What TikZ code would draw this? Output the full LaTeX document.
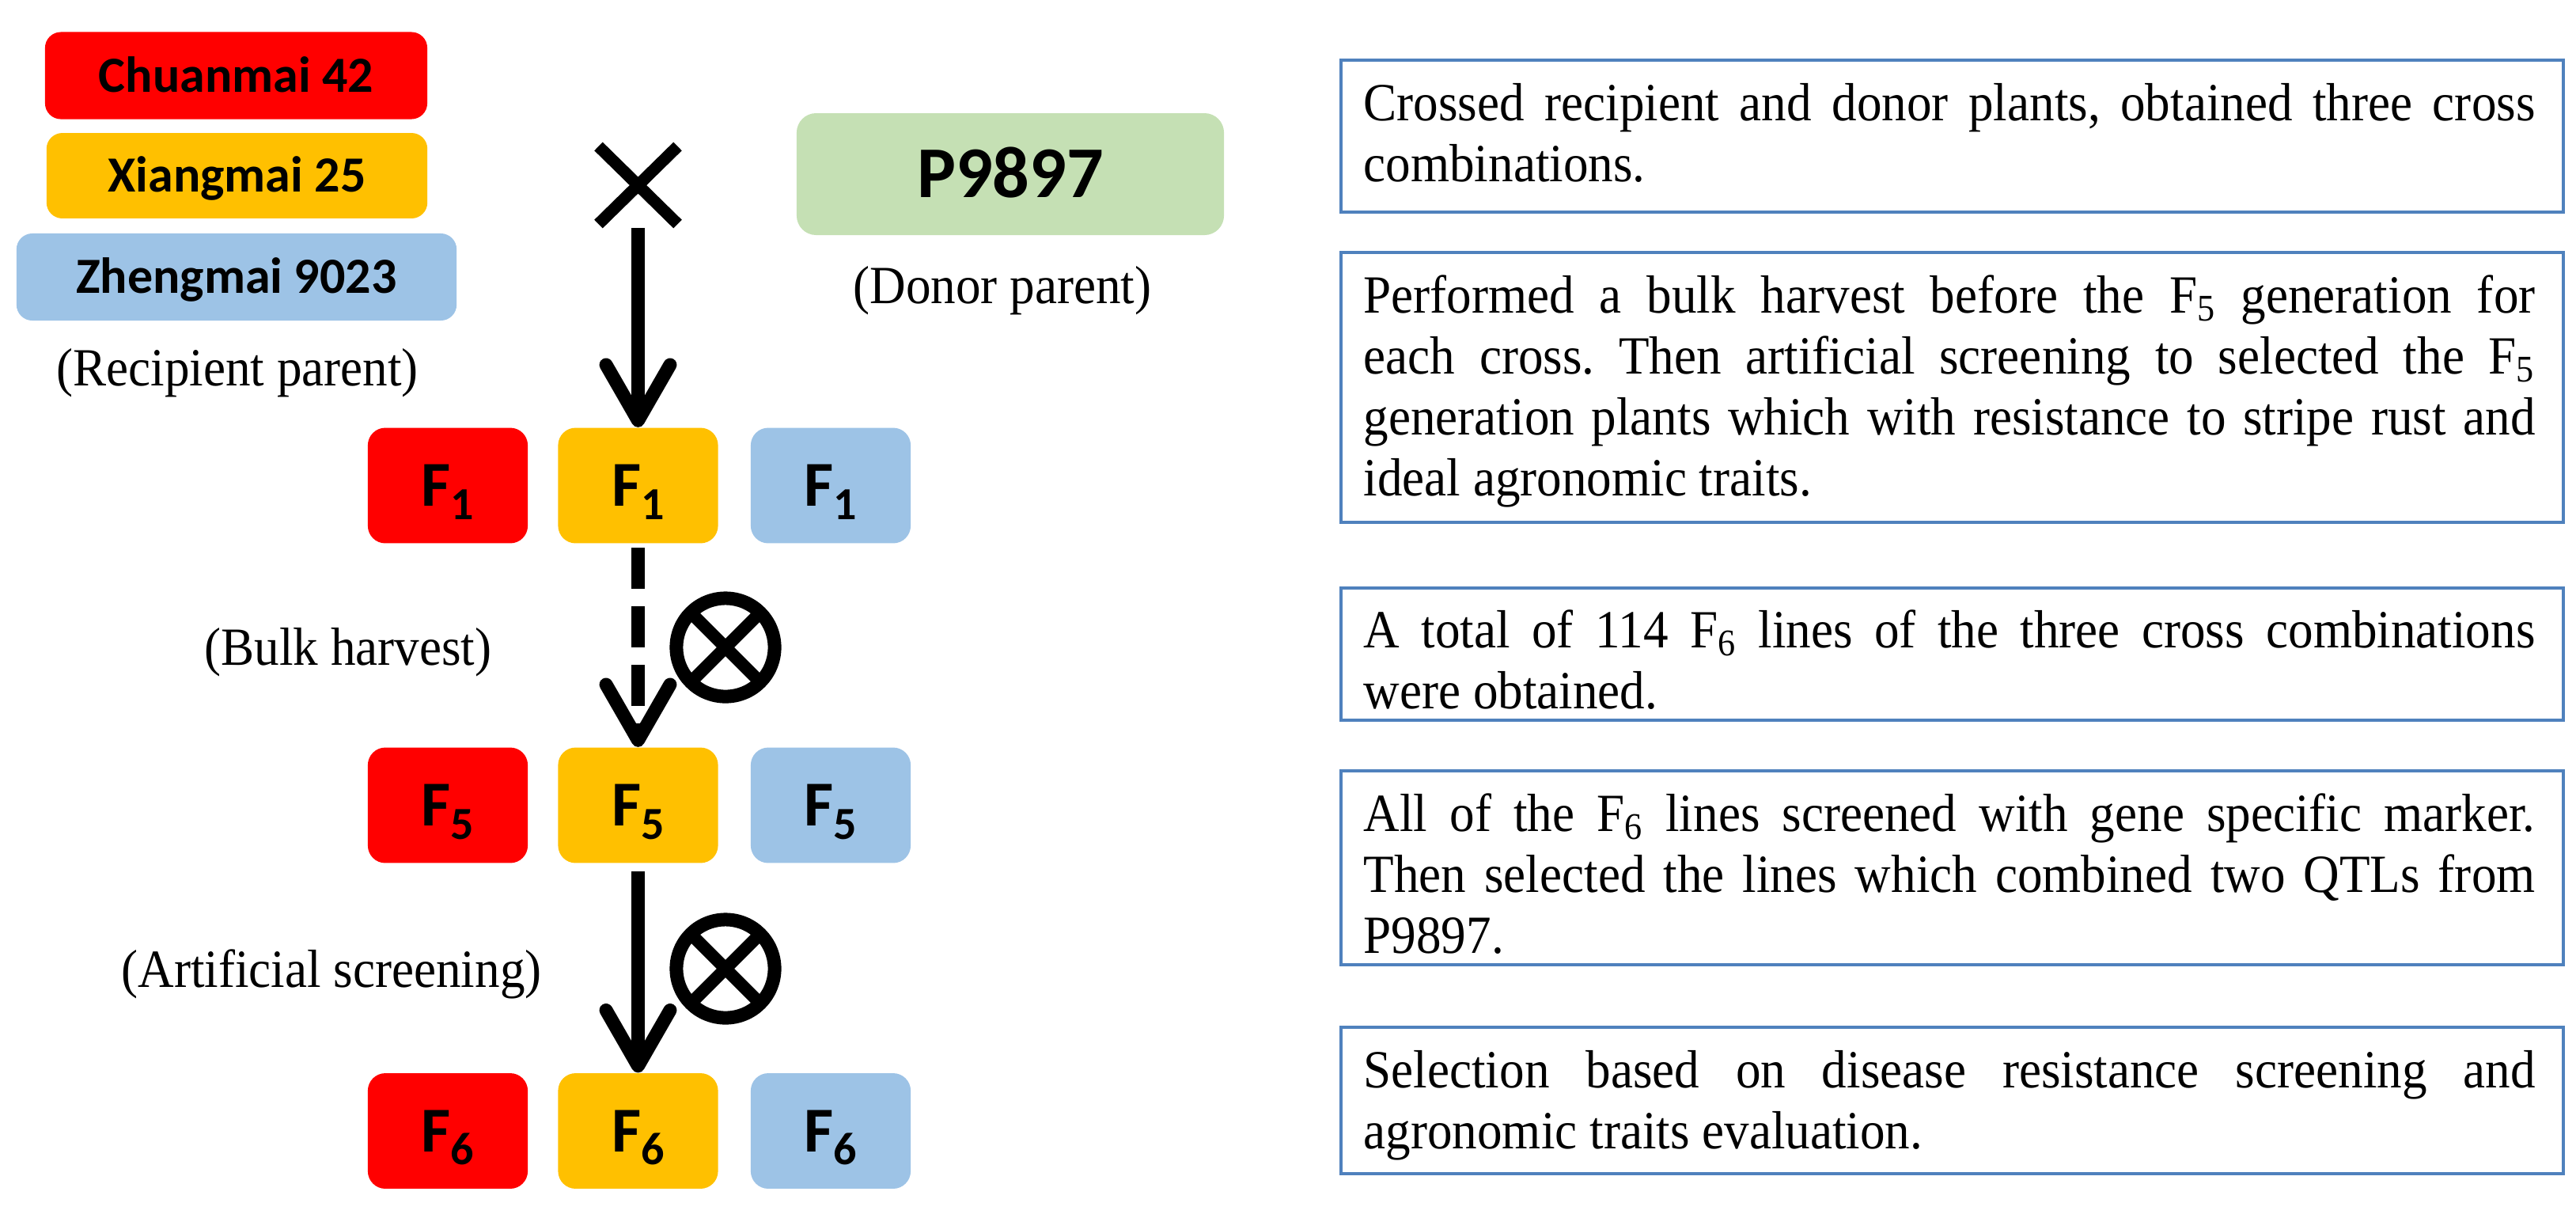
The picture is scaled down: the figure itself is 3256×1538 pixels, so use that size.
\documentclass[tikz,border=0pt]{standalone}
\usepackage{fontspec}
\setmainfont[FakeStretch=0.93]{Liberation Serif}
\newfontfamily\carl{Carlito}
\usetikzlibrary{arrows.meta}
\definecolor{cred}{HTML}{FF0000}
\definecolor{cyel}{HTML}{FFC000}
\definecolor{cblu}{HTML}{9DC3E6}
\definecolor{cgrn}{HTML}{C5E0B4}
\definecolor{cbord}{HTML}{4F81BD}
\newcommand{\Fsub}[1]{F\raisebox{-4.8pt}[0pt][0pt]{\fontsize{16.5}{16.5}\selectfont #1}}
\newcommand{\jline}[1]{\makebox[421.1pt][s]{#1}}
\frenchspacing
\begin{document}
\begin{tikzpicture}[x=0.01cm,y=-0.01cm,
  namebox/.style={rounded corners=5.7pt, inner sep=0pt, minimum height=31.3pt,
    font=\carl\bfseries\fontsize{18.2}{20}\selectfont, text height=11.7pt, text depth=0pt},
  fbox/.style={rounded corners=6.3pt, inner sep=0pt, minimum width=57.5pt, minimum height=41.5pt,
    font=\carl\bfseries\fontsize{23}{25}\selectfont, text height=14.8pt, text depth=0pt},
  stepbox/.style={draw=cbord, line width=1.14pt, inner sep=0pt, minimum width=439.6pt},
  lbl/.style={inner sep=0pt, anchor=base, font=\fontsize{19.3}{21.9}\selectfont},
  bodytext/.style={inner sep=0pt, anchor=base west, font=\fontsize{19.3}{21.9}\selectfont},
  flow/.style={line width=4.84pt, -{Straight Barb[length=20pt, width=23pt, round]}},
  selfmark/.style={circle, draw, line width=4.84pt, minimum size=35.3pt, inner sep=0pt, outer sep=0pt},
]
\useasboundingbox (0,0) rectangle (3256,1538);

% parents
\node[namebox, fill=cred, minimum width=137.4pt] (chuan) at (298.5,95.5) {Chuanmai 42};
\node[namebox, fill=cyel, minimum width=136.9pt, minimum height=30.7pt] (xiang) at (299.5,222) {Xiangmai 25};
\node[namebox, fill=cblu, minimum width=158.2pt] (zheng) at (299,350) {Zhengmai 9023};
\node[lbl] (recip) at (300,487) {(Recipient parent)};

\node[fill=cgrn, rounded corners=7pt, inner sep=0pt, minimum width=153.6pt, minimum height=43.8pt,
  font=\carl\bfseries\fontsize{26.2}{28}\selectfont, text height=16.9pt, text depth=0pt] (donor) at (1277,220) {P9897};
\node[lbl] (donorlbl) at (1267,383) {(Donor parent)};

% cross mark
\node[inner sep=0pt, outer sep=0pt, minimum width=28.45pt, minimum height=27.9pt] (crossmark) at (806.5,234) {};
\draw[line width=4.27pt] (crossmark.north west) -- (crossmark.south east)
  (crossmark.north east) -- (crossmark.south west);

% generations
\node[fbox, fill=cred] (f1r) at (566,613.5) {\Fsub{1}};
\node[fbox, fill=cyel] (f1y) at (806.5,613.5) {\Fsub{1}};
\node[fbox, fill=cblu] (f1b) at (1050,613.5) {\Fsub{1}};
\node[fbox, fill=cred] (f5r) at (566,1017.5) {\Fsub{5}};
\node[fbox, fill=cyel] (f5y) at (806.5,1017.5) {\Fsub{5}};
\node[fbox, fill=cblu] (f5b) at (1050,1017.5) {\Fsub{5}};
\node[fbox, fill=cred] (f6r) at (566,1429) {\Fsub{6}};
\node[fbox, fill=cyel] (f6y) at (806.5,1429) {\Fsub{6}};
\node[fbox, fill=cblu] (f6b) at (1050,1429) {\Fsub{6}};

% arrows
\draw[flow, shorten <=1.4pt] (crossmark.south) -- (f1y.north);
\draw[flow, dash pattern=on 14.8pt off 6.26pt, shorten <=1.4pt] (f1y.south) -- (f5y.north);
\draw[flow, shorten <=2.8pt] (f5y.south) -- (f6y.north);

% selfing marks
\node[selfmark] (ot1) at (917,818) {};
\draw[line width=4.5pt] (ot1.north west) -- (ot1.south east) (ot1.north east) -- (ot1.south west);
\node[selfmark] (ot2) at (917,1224) {};
\draw[line width=4.5pt] (ot2.north west) -- (ot2.south east) (ot2.north east) -- (ot2.south west);

\node[lbl] (bulk) at (440,840) {(Bulk harvest)};
\node[lbl] (artif) at (419,1247) {(Artificial screening)};

% right step boxes
\node[stepbox, minimum height=54.6pt] (s1) at (2467.5,172) {};
\node[stepbox, minimum height=97.0pt] (s2) at (2467.5,489.5) {};
\node[stepbox, minimum height=47.5pt] (s3) at (2467.5,826.5) {};
\node[stepbox, minimum height=69.7pt] (s4) at (2467.5,1096.5) {};
\node[stepbox, minimum height=52.6pt] (s5) at (2467.5,1390.5) {};

\node[bodytext] (t1) at (1723,152) {\parbox[t]{421.1pt}{\jline{Crossed recipient and donor plants, obtained three cross}\\combinations.}};
\node[bodytext] (t2) at (1723,395) {\parbox[t]{421.1pt}{\jline{Performed a bulk harvest before the F\textsubscript{5} generation for}\\\jline{each cross. Then artificial screening to selected the F\textsubscript{5}}\\\jline{generation plants which with resistance to stripe rust and}\\ideal agronomic traits.}};
\node[bodytext] (t3) at (1723,818) {\parbox[t]{421.1pt}{\jline{A total of 114 F\textsubscript{6} lines of the three cross combinations}\\were obtained.}};
\node[bodytext] (t4) at (1723,1050) {\parbox[t]{421.1pt}{\jline{All of the F\textsubscript{6} lines screened with gene specific marker.}\\\jline{Then selected the lines which combined two QTLs from}\\P9897.}};
\node[bodytext] (t5) at (1723,1374) {\parbox[t]{421.1pt}{\jline{Selection based on disease resistance screening and}\\agronomic traits evaluation.}};
\end{tikzpicture}
\end{document}
